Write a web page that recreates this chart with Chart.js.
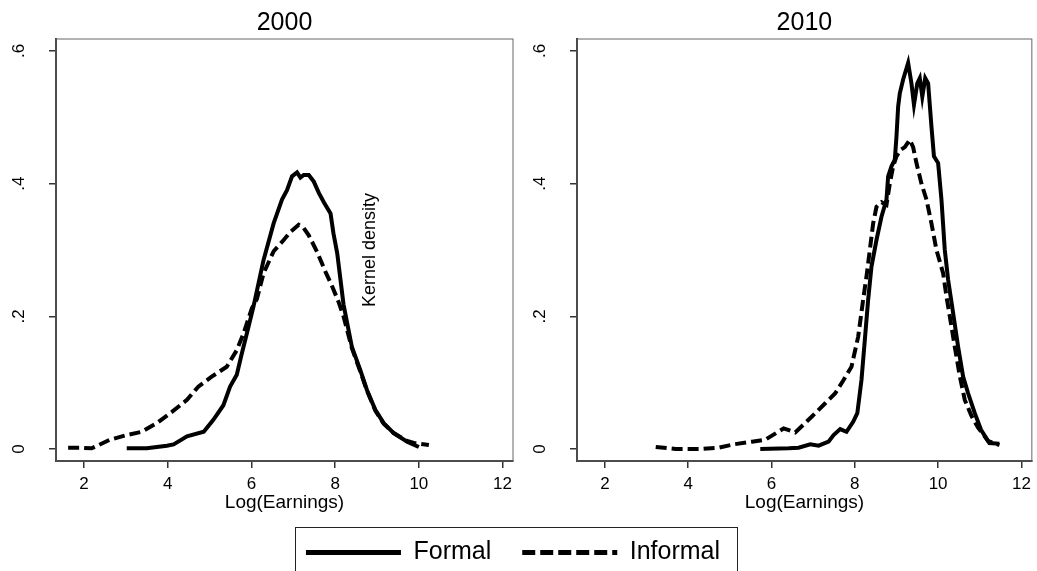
<!DOCTYPE html>
<html>
<head>
<meta charset="utf-8">
<script src="https://cdn.jsdelivr.net/npm/chart.js@4.4.1/dist/chart.umd.min.js"></script>
<style>
  body { margin: 0; background: #fff; overflow: hidden; }
  #wrap { position: relative; width: 1037px; height: 571px; overflow: hidden; }
  canvas { position: absolute; top: 0; }
  #legbox { position: absolute; left: 295px; top: 527px; width: 443px; height: 70px;
            border: 1.5px solid #222; box-sizing: border-box; }
</style>
</head>
<body>
<div id="wrap">
  <canvas id="c2000" width="520" height="520" style="left:0"></canvas>
  <canvas id="c2010" width="678" height="520" style="left:359px"></canvas>
  <div id="legbox"></div>
  <canvas id="cleg" width="1037" height="100" style="left:0;top:509px"></canvas>
</div>
<script>
// kernel density of log earnings, formal vs informal, 2000 and 2010 panels
const panelTitles = ['2000', '2010'];
const seriesNames = ['Formal', 'Informal'];
const xTicks = [2, 4, 6, 8, 10, 12];
const xTickLabels = ['2', '4', '6', '8', '10', '12'];
const yTicks = [0, 0.2, 0.4, 0.6];
const yTickLabels = ['0', '.2', '.4', '.6'];

const formal2000X = [3.02, 3.5, 3.98, 4.14, 4.46, 4.86, 5.09, 5.33, 5.49, 5.65, 5.77, 5.89, 6.05, 6.17, 6.29, 6.53, 6.73, 6.85, 6.97, 7.09, 7.17, 7.25, 7.37, 7.49, 7.61, 7.73, 7.89, 7.96, 8.05, 8.2, 8.4, 8.6, 8.76, 8.96, 9.16, 9.4, 9.72, 10.0];
const formal2000Y = [0.001, 0.001, 0.005, 0.007, 0.019, 0.026, 0.044, 0.066, 0.094, 0.112, 0.144, 0.174, 0.215, 0.25, 0.285, 0.34, 0.376, 0.39, 0.411, 0.417, 0.409, 0.413, 0.413, 0.403, 0.386, 0.372, 0.355, 0.325, 0.295, 0.218, 0.154, 0.119, 0.089, 0.059, 0.039, 0.024, 0.011, 0.003];

const informal2000X = [1.62, 1.9, 2.18, 2.62, 3.02, 3.38, 3.74, 4.1, 4.46, 4.73, 5.05, 5.41, 5.65, 5.81, 6.01, 6.13, 6.29, 6.53, 6.77, 6.93, 7.13, 7.25, 7.37, 7.57, 7.77, 7.93, 8.08, 8.2, 8.4, 8.6, 8.76, 8.96, 9.16, 9.4, 9.72, 9.88, 10.24];
const informal2000Y = [0.002, 0.002, 0.001, 0.014, 0.021, 0.026, 0.039, 0.056, 0.074, 0.094, 0.109, 0.124, 0.149, 0.174, 0.212, 0.226, 0.265, 0.298, 0.315, 0.327, 0.338, 0.333, 0.322, 0.297, 0.267, 0.245, 0.222, 0.2, 0.152, 0.117, 0.088, 0.058, 0.038, 0.024, 0.012, 0.009, 0.006];

const formal2010X = [5.73, 6.41, 6.65, 6.93, 7.13, 7.37, 7.49, 7.65, 7.8, 7.96, 8.06, 8.16, 8.24, 8.32, 8.4, 8.52, 8.64, 8.76, 8.8, 8.88, 8.96, 9.0, 9.04, 9.08, 9.16, 9.28, 9.36, 9.42, 9.5, 9.56, 9.62, 9.69, 9.76, 9.84, 9.9, 10.0, 10.08, 10.16, 10.24, 10.36, 10.48, 10.6, 10.72, 10.88, 11.03, 11.23, 11.47];
const formal2010Y = [0, 0.001, 0.002, 0.007, 0.005, 0.011, 0.021, 0.03, 0.026, 0.041, 0.054, 0.104, 0.164, 0.225, 0.275, 0.315, 0.35, 0.376, 0.411, 0.426, 0.436, 0.471, 0.516, 0.536, 0.557, 0.582, 0.551, 0.519, 0.551, 0.559, 0.531, 0.559, 0.551, 0.486, 0.441, 0.431, 0.376, 0.3, 0.255, 0.205, 0.154, 0.109, 0.084, 0.054, 0.029, 0.009, 0.008];

const informal2010X = [3.22, 3.7, 4.26, 4.73, 5.09, 5.53, 5.85, 6.29, 6.57, 6.97, 7.29, 7.53, 7.73, 7.92, 8.08, 8.2, 8.28, 8.36, 8.44, 8.52, 8.64, 8.76, 8.84, 8.92, 9.0, 9.1, 9.2, 9.32, 9.4, 9.48, 9.6, 9.72, 9.84, 9.96, 10.12, 10.2, 10.28, 10.4, 10.52, 10.64, 10.8, 10.96, 11.2, 11.47];
const informal2010Y = [0.003, 0, 0, 0.002, 0.007, 0.011, 0.014, 0.031, 0.025, 0.049, 0.069, 0.084, 0.104, 0.124, 0.169, 0.225, 0.26, 0.3, 0.34, 0.365, 0.372, 0.368, 0.4, 0.426, 0.441, 0.451, 0.455, 0.466, 0.455, 0.431, 0.4, 0.376, 0.34, 0.3, 0.265, 0.23, 0.2, 0.154, 0.11, 0.074, 0.05, 0.032, 0.012, 0.006];

Chart.defaults.font.family = "'Liberation Sans', Arial, sans-serif";
Chart.defaults.color = '#000';

function pts(xs, ys) {
    return xs.map((x, i) => ({x: x, y: ys[i]}));
}

function lineSet(label, data, dash) {
    return {
        label: label,
        data: data,
        borderColor: '#000',
        borderWidth: 4,
        borderDash: dash,
        pointRadius: 0,
        tension: 0,
        fill: false
    };
}

// grey outline round the plot region, like stata's plotregion box
const framePlugin = {
    id: 'frame',
    beforeDatasetsDraw(chart) {
        const a = chart.chartArea;
        const ctx = chart.ctx;
        ctx.save();
        ctx.strokeStyle = '#666';
        ctx.lineWidth = 1;
        ctx.strokeRect(a.left, a.top, a.right - a.left, a.bottom - a.top);
        ctx.restore();
    }
};

function makePanel(id, title, yWidth, padRight, yTitle, datasets) {
    return new Chart(document.getElementById(id), {
        type: 'line',
        data: {datasets: datasets},
        plugins: [framePlugin],
        options: {
            responsive: false,
            animation: false,
            layout: {padding: {top: 8, right: padRight, left: 0, bottom: 0}},
            plugins: {
                legend: {display: false},
                tooltip: {enabled: false},
                title: {
                    display: true,
                    text: title,
                    fullSize: false,
                    color: '#000',
                    font: {size: 25, weight: 'normal'},
                    padding: {top: 0, bottom: 1}
                }
            },
            scales: {
                x: {
                    type: 'linear',
                    min: 1.33,
                    max: 12.25,
                    afterBuildTicks: s => { s.ticks = xTicks.map(v => ({value: v})); },
                    afterFit: s => { s.height = 59; },
                    ticks: {
                        autoSkip: false,
                        maxRotation: 0,
                        padding: 6,
                        color: '#000',
                        font: {size: 17},
                        callback: (v, i) => xTickLabels[i]
                    },
                    grid: {drawOnChartArea: false, tickLength: 7, color: '#333', lineWidth: 1.5},
                    border: {color: '#333', width: 2},
                    title: {
                        display: true,
                        text: 'Log(Earnings)',
                        color: '#000',
                        font: {size: 19},
                        padding: {top: 0, bottom: 6}
                    }
                },
                y: {
                    type: 'linear',
                    min: -0.0181,
                    max: 0.618,
                    afterBuildTicks: s => { s.ticks = yTicks.map(v => ({value: v})); },
                    afterFit: s => { s.width = yWidth; },
                    ticks: {
                        autoSkip: false,
                        minRotation: 90,
                        maxRotation: 90,
                        crossAlign: 'center',
                        padding: 23,
                        color: '#000',
                        font: {size: 17},
                        callback: (v, i) => yTickLabels[i]
                    },
                    grid: {drawOnChartArea: false, tickLength: 7, color: '#333', lineWidth: 1.5},
                    border: {color: '#333', width: 2},
                    title: {
                        display: yTitle !== '',
                        text: yTitle,
                        color: '#000',
                        font: {size: 18},
                        padding: {top: 0, bottom: 0}
                    }
                }
            }
        }
    });
}

const informalDash = [11, 5];
const legendDash = [[], [13, 5]];

makePanel('c2000', panelTitles[0], 56, 7, '', [
    lineSet(seriesNames[0], pts(formal2000X, formal2000Y), []),
    lineSet(seriesNames[1], pts(informal2000X, informal2000Y), informalDash)
]);

makePanel('c2010', panelTitles[1], 218, 4, 'Kernel density', [
    lineSet(seriesNames[0], pts(formal2010X, formal2010Y), []),
    lineSet(seriesNames[1], pts(informal2010X, informal2010Y), informalDash)
]);

// shared legend under both panels
new Chart(document.getElementById('cleg'), {
    type: 'line',
    data: {datasets: seriesNames.map(n => ({label: n, data: []}))},
    options: {
        responsive: false,
        animation: false,
        layout: {padding: {right: 11}},
        scales: {x: {display: false}, y: {display: false}},
        plugins: {
            tooltip: {enabled: false},
            legend: {
                display: true,
                position: 'top',
                labels: {
                    usePointStyle: true,
                    pointStyle: 'line',
                    pointStyleWidth: 95,
                    boxHeight: 25,
                    padding: 31,
                    color: '#000',
                    font: {size: 25},
                    generateLabels: chart => seriesNames.map((n, i) => ({
                        text: n,
                        fillStyle: '#000',
                        strokeStyle: '#000',
                        fontColor: '#000',
                        lineWidth: 5,
                        lineDash: legendDash[i],
                        pointStyle: 'line',
                        hidden: false,
                        datasetIndex: i
                    }))
                }
            }
        }
    }
});
</script>
</body>
</html>
